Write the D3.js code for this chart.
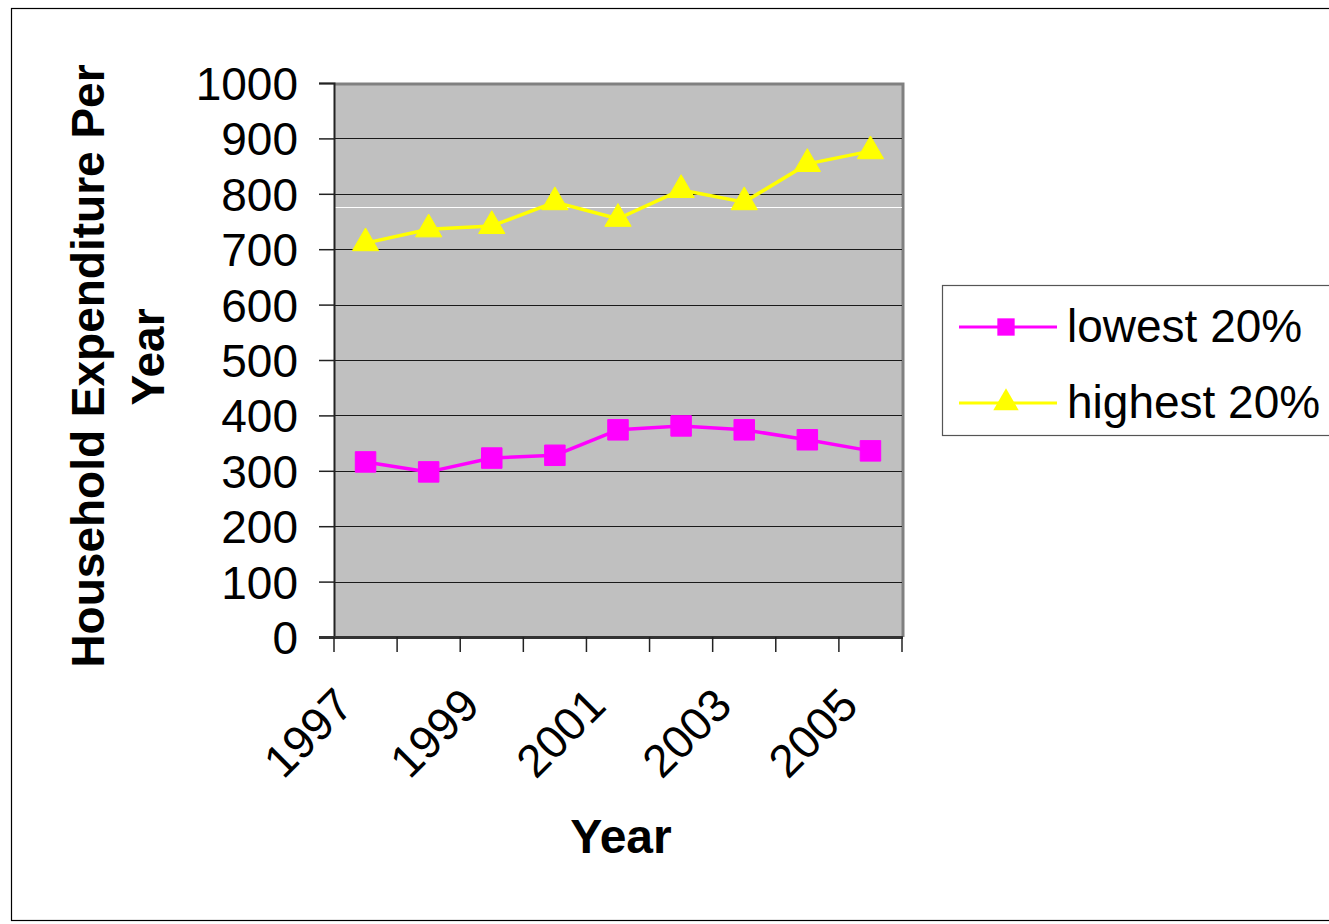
<!DOCTYPE html>
<html>
<head>
<meta charset="utf-8">
<script src="https://cdn.jsdelivr.net/npm/d3@7/dist/d3.min.js"></script>
<style>
  html, body { margin: 0; padding: 0; background: #fff; }
  svg { display: block; font-family: "Liberation Sans", Arial, sans-serif; }
</style>
</head>
<body>
<svg id="chart" width="1329" height="924"></svg>
<script>
// ---- data ----
const years = ["1997", "1998", "1999", "2000", "2001", "2002", "2003", "2004", "2005"];
const shownYearLabels = ["1997", "1999", "2001", "2003", "2005"];
const lowest20 = [316, 298, 323, 328, 374, 381, 374, 356, 336];
const highest20 = [711, 736, 742, 785, 755, 807, 785, 854, 877];
const seriesNames = ["lowest 20%", "highest 20%"];
const yTicks = [0, 100, 200, 300, 400, 500, 600, 700, 800, 900, 1000];
const whiteLineValue = 776;

// ---- layout ----
const svg = d3.select("#chart");
const plot = { left: 334, right: 902, top: 83, bottom: 637 };

// outer border
svg.append("rect").attr("x", 11.5).attr("y", 8.5).attr("width", 1340).attr("height", 912)
  .attr("fill", "none").attr("stroke", "#000").attr("stroke-width", 1.2);

const x = d3.scaleBand().domain(years).range([plot.left, plot.right]).paddingInner(0).paddingOuter(0);
const y = d3.scaleLinear().domain([0, 1000]).range([plot.bottom, plot.top]);

// plot area
svg.append("rect").attr("x", plot.left).attr("y", plot.top)
  .attr("width", plot.right - plot.left).attr("height", plot.bottom - plot.top)
  .attr("fill", "#c0c0c0");
// top/right gray frame
svg.append("path")
  .attr("d", `M${plot.left},${plot.top + 1} H${plot.right + 1} V${plot.bottom}`)
  .attr("fill", "none").attr("stroke", "#808080").attr("stroke-width", 3);

// gridlines
svg.append("g").selectAll("line").data(yTicks.filter(d => d > 0 && d < 1000)).join("line")
  .attr("x1", plot.left).attr("x2", plot.right)
  .attr("y1", d => Math.round(y(d)) + 0.5).attr("y2", d => Math.round(y(d)) + 0.5)
  .attr("stroke", "#1a1a1a").attr("stroke-width", 1);

// stray white line
svg.append("line").attr("x1", plot.left).attr("x2", plot.right)
  .attr("y1", Math.round(y(whiteLineValue)) + 0.5).attr("y2", Math.round(y(whiteLineValue)) + 0.5)
  .attr("stroke", "#fff").attr("stroke-width", 1);

// y axis
const yAxis = d3.axisLeft(y).tickValues(yTicks).tickSize(15).tickPadding(21).tickFormat(d3.format("d"));
const gy = svg.append("g").attr("transform", `translate(${plot.left},0)`).call(yAxis);
gy.select(".domain").attr("stroke", "#222").attr("stroke-width", 2);
gy.selectAll(".tick line").attr("stroke", "#222").attr("stroke-width", 1.5);
gy.selectAll(".tick text").attr("font-size", 46).attr("fill", "#000")
  .attr("font-family", "Liberation Sans, Arial, sans-serif").attr("dy", "0.36em");

// x axis (ticks at category boundaries)
const xBounds = years.map(d => x(d)).concat([plot.right]);
const gx = svg.append("g");
gx.append("line").attr("x1", plot.left - 15).attr("x2", plot.right + 1)
  .attr("y1", plot.bottom + 0.5).attr("y2", plot.bottom + 0.5)
  .attr("stroke", "#333").attr("stroke-width", 3);
gx.selectAll("line.tk").data(xBounds).join("line").attr("class", "tk")
  .attr("x1", d => d).attr("x2", d => d)
  .attr("y1", plot.bottom).attr("y2", plot.bottom + 15)
  .attr("stroke", "#222").attr("stroke-width", 1.5);
gx.selectAll("text").data(shownYearLabels).join("text")
  .attr("transform", d => `translate(${x(d) + x.bandwidth() / 2 - 10},${plot.bottom + 71}) rotate(-45)`)
  .attr("text-anchor", "end")
  .attr("font-size", 46).attr("fill", "#000")
  .text(d => d);

// axis titles
svg.append("text").attr("x", 621).attr("y", 853).attr("text-anchor", "middle")
  .attr("font-size", 48).attr("font-weight", "bold").text("Year");
const yt = svg.append("text").attr("transform", "translate(104,366) rotate(-90)")
  .attr("text-anchor", "middle").attr("font-size", 46).attr("font-weight", "bold");
yt.append("tspan").attr("x", 0).attr("y", 0).text("Household Expenditure Per");
yt.append("tspan").attr("x", 9).attr("y", 60).text("Year");

// series
const cx = d => x(d) + x.bandwidth() / 2;
const line = d3.line().x((v, i) => cx(years[i])).y(v => y(v));
const series = [
  { name: seriesNames[0], values: lowest20, color: "#ff00ff", marker: "square" },
  { name: seriesNames[1], values: highest20, color: "#ffff00", marker: "triangle" }
];
const sqSym = d3.symbol().type(d3.symbolSquare).size(420);
const triSym = d3.symbol().type(d3.symbolTriangle).size(300);

series.forEach(s => {
  svg.append("path").attr("d", line(s.values)).attr("fill", "none")
    .attr("stroke", s.color).attr("stroke-width", 3.5).attr("stroke-linejoin", "round");
  svg.append("g").selectAll("path").data(s.values).join("path")
    .attr("transform", (v, i) => `translate(${cx(years[i])},${y(v)})`)
    .attr("d", s.marker === "square" ? sqSym : triSym)
    .attr("fill", s.color).attr("stroke", s.color).attr("stroke-width", 1);
});

// legend
const lg = svg.append("g");
lg.append("rect").attr("x", 942.5).attr("y", 285.5).attr("width", 420).attr("height", 150)
  .attr("fill", "#fff").attr("stroke", "#555").attr("stroke-width", 1.2);
series.forEach((s, i) => {
  const ly = 327 + i * 76;
  lg.append("line").attr("x1", 959).attr("x2", 1057).attr("y1", ly).attr("y2", ly)
    .attr("stroke", s.color).attr("stroke-width", 3);
  lg.append("path").attr("transform", `translate(1006,${ly})`)
    .attr("d", s.marker === "square" ? d3.symbol().type(d3.symbolSquare).size(300)
                                     : d3.symbol().type(d3.symbolTriangle).size(280))
    .attr("fill", s.color);
  lg.append("text").attr("x", 1067).attr("y", ly + 15).attr("font-size", 46).text(s.name);
});
</script>
</body>
</html>
